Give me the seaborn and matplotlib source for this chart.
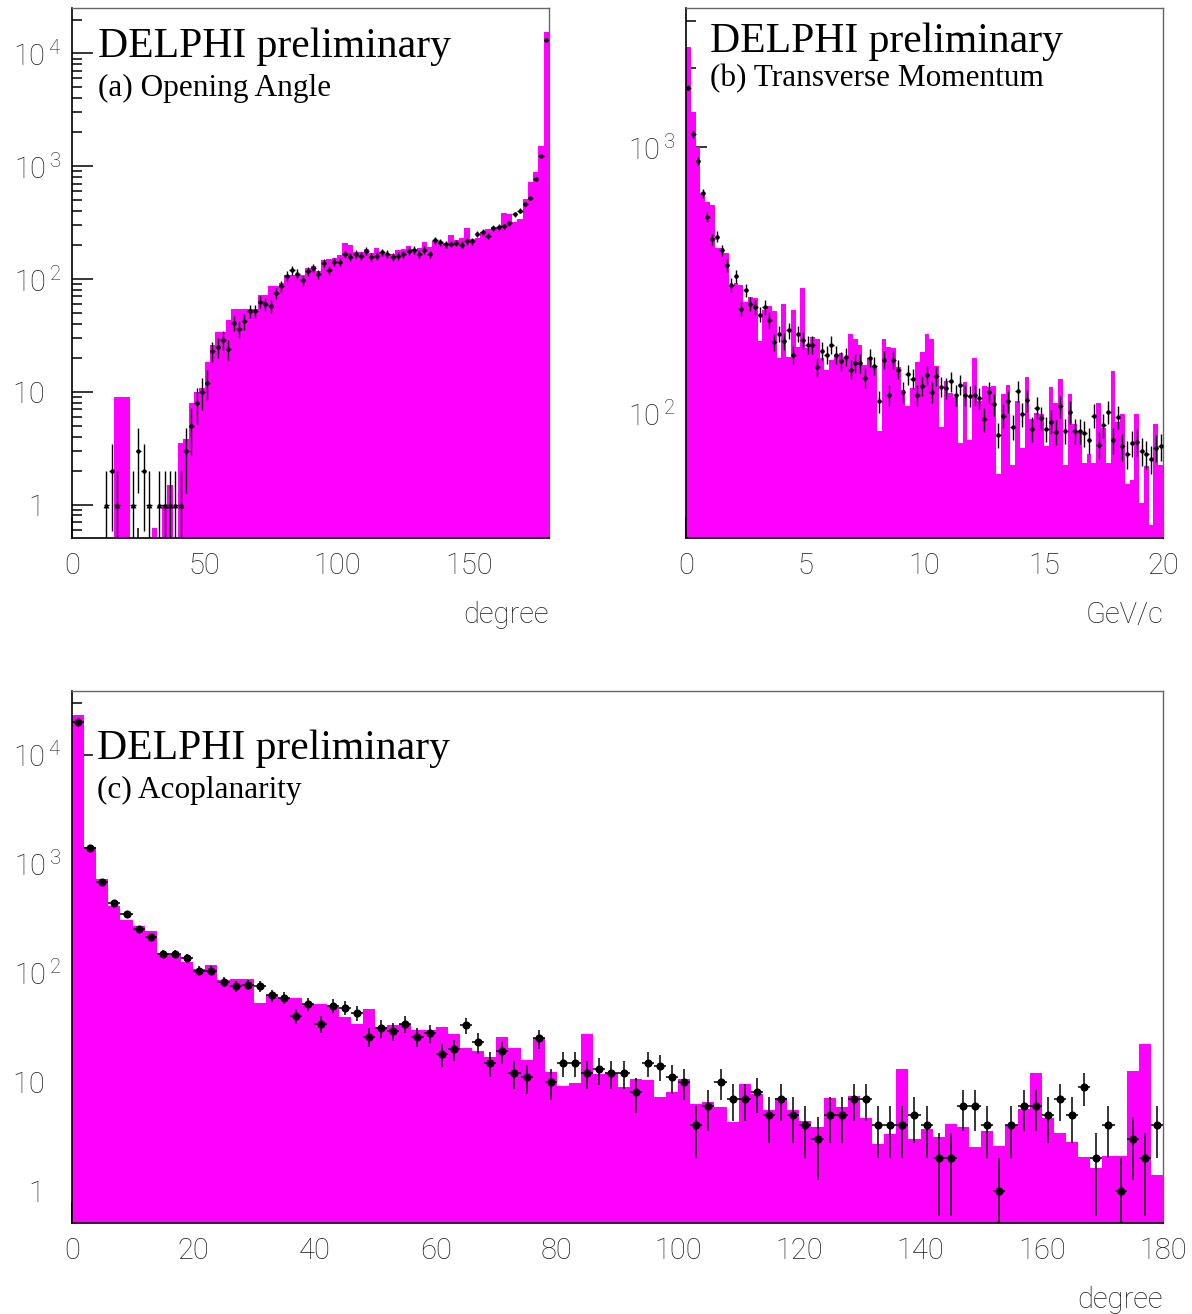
import numpy as np
import matplotlib
matplotlib.use('Agg')
import matplotlib.pyplot as plt
import matplotlib.ticker as mticker
import seaborn as sns

# ---------------- data ----------------
# (a) Opening angle, 90 bins of 2 degrees (0-180)
angle_mc = [0, 0, 0, 0, 0, 0, 0, 0, 9, 9,
            9, 0, 0, 0, 0, 0.62, 0, 1.0, 1.5, 0,
            3.5, 3.8, 8.0, 10, 10.9, 18.5, 26, 34, 34, 43,
            54, 54, 54, 54, 54, 72, 72, 87, 87, 92,
            108, 108, 108, 108, 125, 130, 117, 147, 149, 154,
            162, 209, 201, 174, 174, 183, 170, 190, 174, 168,
            168, 181, 185, 197, 183, 190, 214, 193, 217, 209,
            209, 246, 221, 233, 284, 228, 233, 263, 280, 289,
            290, 381, 375, 320, 340, 510, 720, 889, 1513, 15400]
angle_data = [0, 0, 0, 0, 0, 0, 1, 2, 1, 0,
              0, 1, 3, 2, 1, 0, 1, 1, 1, 1,
              1, 3, 5, 8, 10, 12, 23, 25, 29, 24,
              41, 36, 42, 52, 52, 63, 60, 58, 75, 86,
              107, 119, 111, 97, 117, 126, 110, 140, 119, 142,
              142, 166, 156, 168, 160, 177, 158, 160, 173, 168,
              158, 160, 166, 177, 181, 168, 181, 166, 221, 212,
              204, 205, 209, 201, 217, 217, 253, 262, 240, 284,
              289, 293, 312, 375, 402, 464, 525, 777, 1233, 13200]

# (b) Transverse momentum, 100 bins of 0.2 GeV/c (0-20)
pt_mc = [2393, 1355, 1000, 670, 624, 606, 418, 419, 402, 300,
         309, 304, 262, 273, 271, 187, 245, 254, 243, 162,
         258, 163, 245, 177, 295, 176, 194, 191, 161, 146,
         159, 166, 169, 161, 199, 190, 180, 152, 161, 149,
         86, 191, 177, 176, 149, 122, 106, 124, 156, 170,
         199, 190, 151, 89, 132, 119, 115, 77, 131, 79,
         162, 111, 127, 126, 127, 59, 118, 128, 64, 111,
         74, 137, 95, 100, 99, 75, 125, 109, 135, 64,
         118, 91, 86, 65, 70, 65, 109, 88, 65, 144,
         93, 99, 54, 56, 99, 46, 63, 38, 91, 64]
pt_data = [1681, 1124, 889, 673, 547, 451, 462, 410, 360, 304,
           327, 247, 290, 258, 250, 235, 250, 225, 185, 199,
           187, 205, 166, 199, 188, 181, 181, 149, 172, 166,
           181, 166, 157, 163, 146, 154, 154, 136, 162, 151,
           111, 159, 117, 159, 146, 120, 140, 135, 117, 127,
           139, 120, 138, 126, 124, 132, 117, 128, 117, 116,
           117, 114, 95, 120, 108, 83, 98, 111, 89, 121,
           99, 112, 87, 105, 96, 87, 93, 85, 106, 86,
           101, 86, 86, 84, 79, 98, 76, 90, 101, 79,
           97, 75, 70, 77, 78, 72, 70, 67, 74, 75]

# (c) Acoplanarity, 90 bins of 2 degrees (0-180)
acop_mc = [23000, 1436, 723, 413, 302, 268, 241, 151, 145, 125,
           108, 118, 86, 87, 87, 52.5, 63, 59, 59, 52,
           52, 48.5, 39, 34, 47, 32, 33, 34, 30, 30,
           32, 27.5, 20.5, 19.3, 17, 26, 20.5, 16, 25.5, 12.3,
           9.1, 9.8, 27.7, 11.8, 12.1, 8.9, 10.6, 10.4, 7.3, 8.1,
           10.6, 6.3, 6.6, 5.9, 4.3, 9.6, 7.7, 5.5, 7.1, 5.5,
           4.4, 3.9, 7.1, 5.9, 7.4, 4.7, 2.67, 3.3, 13.2, 3.0,
           3.7, 3.1, 4.1, 3.9, 2.55, 3.55, 2.6, 4.0, 5.7, 12.1,
           4.65, 3.4, 2.8, 2.05, 1.63, 2.1, 2.1, 12.7, 22.4, 1.4]
acop_data = [19700, 1400, 680, 436, 345, 253, 212, 148, 148, 137,
             105, 105, 83, 76, 78, 76, 62, 59, 40, 52,
             34, 50, 48, 43, 26, 31, 29, 34, 26, 28,
             18, 20, 33, 23, 15, 19, 12, 11, 25, 10,
             15, 15, 12, 13, 12, 12, 8, 15, 14, 11,
             10, 4, 6, 10, 7, 7, 8, 5, 7, 5,
             4, 3, 5, 5, 7, 7, 4, 4, 4, 5,
             4, 2, 2, 6, 6, 4, 1, 4, 6, 6,
             5, 7, 5, 9, 2, 4, 1, 3, 2, 4]

angle_ticks = [0, 50, 100, 150]
pt_ticks = [0, 5, 10, 15, 20]
acop_ticks = [0, 20, 40, 60, 80, 100, 120, 140, 160, 180]
y_ticks_ac = [1, 10, 100, 1000, 10000]
y_labels_ac = ['1\u2007', '10\u2007', r'$10^{\,2}$', r'$10^{\,3}$', r'$10^{\,4}$']
y_ticks_b = [100, 1000]
y_labels_b = [r'$10^{\,2}$', r'$10^{\,3}$']

# ---------------- style ----------------
sns.set_style('ticks')
plt.rcParams['font.family'] = ['Roboto', 'DejaVu Sans']
plt.rcParams['font.weight'] = 'light'
plt.rcParams['axes.labelweight'] = 'light'
plt.rcParams['mathtext.fontset'] = 'custom'
plt.rcParams['mathtext.rm'] = 'Roboto:light'
plt.rcParams['mathtext.it'] = 'Roboto:light'
plt.rcParams['mathtext.bf'] = 'Roboto:light'

MAGENTA = '#ff00ff'
W, H = 1192, 1314
fig = plt.figure(figsize=(W / 100, H / 100), dpi=100)


def px_axes(l, t, r, b):
    return fig.add_axes([l / W, 1 - b / H, (r - l) / W, (b - t) / H])


def draw_hist(ax, edges, mc, split=49):
    mc = np.asarray(mc, float)
    centers = 0.5 * (edges[:-1] + edges[1:])
    for lo, hi in ((0, split), (split, len(mc))):
        sns.histplot(x=centers[lo:hi], weights=mc[lo:hi], bins=edges[lo:hi + 1].tolist(),
                     element='step', fill=True, color=MAGENTA, alpha=1,
                     linewidth=0, ax=ax, zorder=1)


def draw_points(ax, edges, counts, msize, tri=False, lw=1.0):
    counts = np.asarray(counts, float)
    centers = 0.5 * (edges[:-1] + edges[1:])
    half = 0.5 * (edges[1] - edges[0])
    m = counts > 0
    x, y = centers[m], counts[m]
    ax.errorbar(x, y, yerr=np.sqrt(y), xerr=half, fmt='none', ecolor='black',
                elinewidth=lw, capsize=0, zorder=3)
    if tri:
        one = y == 1
        sns.scatterplot(x=x[~one], y=y[~one], color='black', s=msize, marker='o',
                        linewidth=0, ax=ax, legend=False, zorder=4)
        sns.scatterplot(x=x[one], y=y[one], color='black', s=msize * 1.8, marker='^',
                        linewidth=0, ax=ax, legend=False, zorder=4)
    else:
        sns.scatterplot(x=x, y=y, color='black', s=msize, marker='o',
                        linewidth=0, ax=ax, legend=False, zorder=4)


def style_axes(ax, xlim, ylim, xticks, xminor, yticks, ylabels, xlabel):
    ax.set_yscale('log')
    ax.set_xlim(*xlim)
    ax.set_ylim(*ylim)
    ax.xaxis.set_major_locator(mticker.FixedLocator(xticks))
    ax.xaxis.set_major_formatter(mticker.FixedFormatter([str(t) for t in xticks]))
    ax.xaxis.set_minor_locator(mticker.MultipleLocator(xminor))
    ax.yaxis.set_major_locator(mticker.FixedLocator(yticks))
    ax.yaxis.set_major_formatter(mticker.FixedFormatter(ylabels))
    ax.yaxis.set_minor_locator(mticker.LogLocator(base=10, subs=np.arange(2, 10), numticks=50))
    ax.yaxis.set_minor_formatter(mticker.NullFormatter())
    ax.tick_params(which='both', direction='in', top=False, right=False,
                   color='black', width=1.1, labelsize=21, labelcolor='#222222')
    ax.tick_params(which='major', length=15)
    ax.tick_params(which='minor', length=7)
    ax.tick_params(axis='x', which='major', pad=10)
    ax.tick_params(axis='y', which='major', pad=8)
    ax.set_ylabel('')
    ax.set_xlabel(xlabel, loc='right', fontsize=21, fontweight='light',
                  color='#222222', labelpad=15)
    for s in ('left', 'bottom'):
        ax.spines[s].set_color('black')
        ax.spines[s].set_linewidth(1.2)
    for s in ('top', 'right'):
        ax.spines[s].set_color('#666666')
        ax.spines[s].set_linewidth(1.0)
        ax.spines[s].set_visible(True)
    ax.set_facecolor('white')


angle_edges = np.linspace(0, 180, 91)
pt_edges = np.linspace(0, 20, 101)
acop_edges = np.linspace(0, 180, 91)

# (a)
ax_a = px_axes(72, 8, 549, 538)
draw_hist(ax_a, angle_edges, angle_mc)
draw_points(ax_a, angle_edges, angle_data, msize=10, tri=True, lw=1.0)
style_axes(ax_a, (0, 180), (0.505, 25300), angle_ticks, 25, y_ticks_ac, y_labels_ac, 'degree')

# (b)
ax_b = px_axes(686, 8, 1163, 538)
draw_hist(ax_b, pt_edges, pt_mc)
draw_points(ax_b, pt_edges, pt_data, msize=10, lw=1.0)
style_axes(ax_b, (0, 20), (33.9, 3350), pt_ticks, 1, y_ticks_b, y_labels_b, 'GeV/c')

# (c)
ax_c = px_axes(72, 691, 1163, 1223)
draw_hist(ax_c, acop_edges, acop_mc)
draw_points(ax_c, acop_edges, acop_data, msize=34, lw=1.1)
style_axes(ax_c, (0, 180), (0.509, 38300), acop_ticks, 5, y_ticks_ac, y_labels_ac, 'degree')

# titles
serif = ['Liberation Serif', 'DejaVu Serif']
for (x, yb, ys, sub) in ((98, 57, 96, '(a) Opening Angle'),
                         (710, 52, 86, '(b) Transverse Momentum'),
                         (97, 759, 798, '(c) Acoplanarity')):
    fig.text(x / W, 1 - yb / H, 'DELPHI preliminary', family=serif, weight='normal',
             fontsize=30, ha='left', va='baseline', color='black')
    fig.text(x / W, 1 - ys / H, sub, family=serif, weight='normal',
             fontsize=22.5, ha='left', va='baseline', color='black')

fig.savefig('out.png', dpi=100, facecolor='white')
